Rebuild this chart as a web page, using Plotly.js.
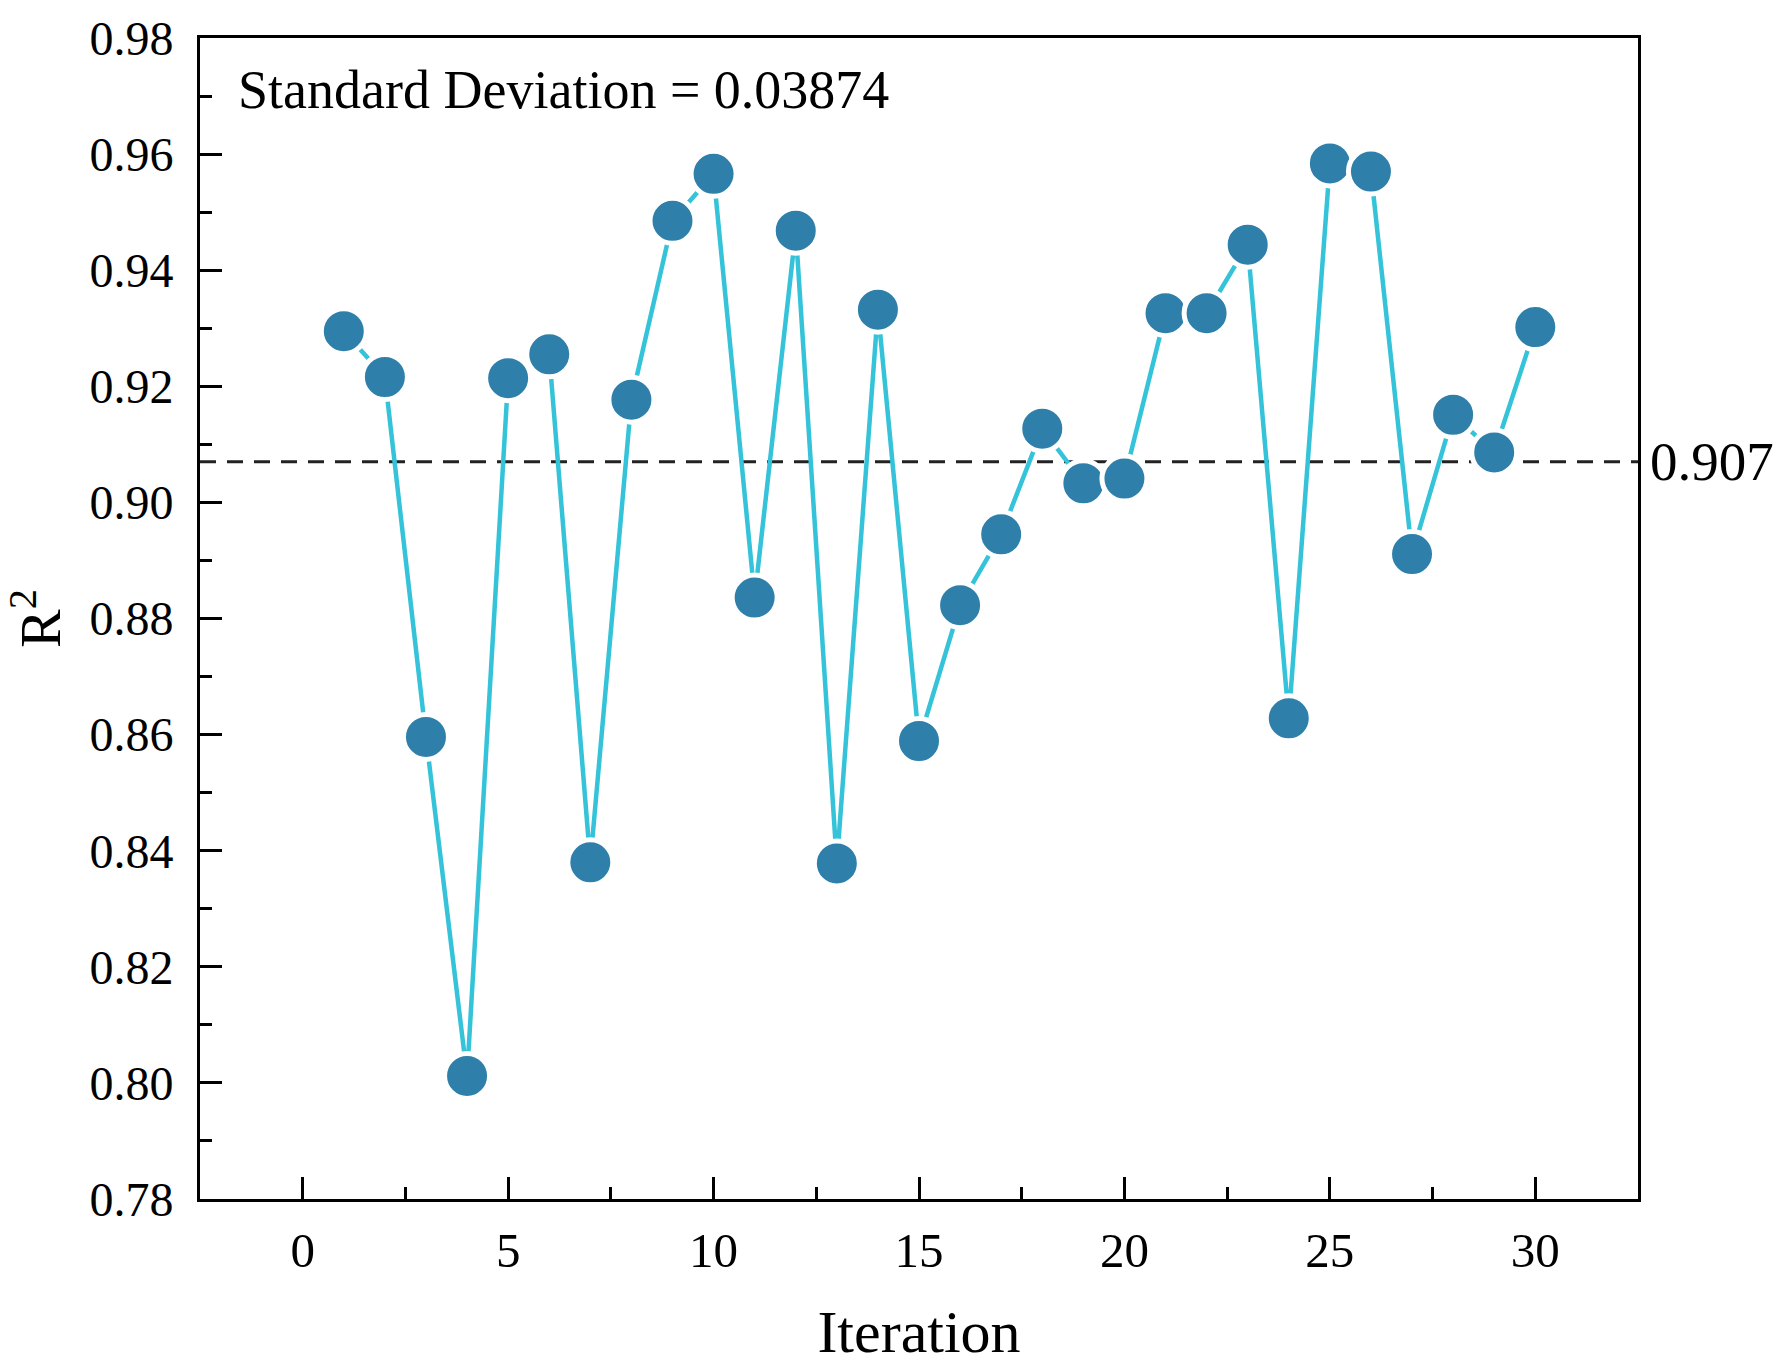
<!DOCTYPE html>
<html>
<head>
<meta charset="utf-8">
<script src="https://cdn.plot.ly/plotly-3.0.1.min.js"></script>
<style>html,body{margin:0;padding:0;background:#fff;}#chart{width:1787px;height:1372px;}</style>
</head>
<body>
<div id="chart"></div>
<script>
const iterations = [1,2,3,4,5,6,7,8,9,10,11,12,13,14,15,16,17,18,19,20,21,22,23,24,25,26,27,28,29,30];
const r2Values = [0.9295,0.9216,0.8596,0.8012,0.9214,0.9255,0.8380,0.9177,0.9485,0.9566,
                  0.8836,0.9468,0.8378,0.9332,0.8589,0.8823,0.8945,0.9127,0.9033,0.9041,
                  0.9326,0.9326,0.9444,0.8628,0.9584,0.9570,0.8911,0.9151,0.9086,0.9302];
const meanValue = 0.907;
const stdText = "Standard Deviation = 0.03874";
const xTickVals = [0,5,10,15,20,25,30];
const yTickVals = [0.78,0.80,0.82,0.84,0.86,0.88,0.90,0.92,0.94,0.96,0.98];

const font = "Liberation Serif, Times New Roman, serif";

const trace = {
  x: iterations, y: r2Values, type: 'scatter', mode: 'lines+markers',
  line: {color: '#34c3d8', width: 4.5},
  marker: {color: '#2e80ab', size: 45, line: {color: '#ffffff', width: 5}},
  hoverinfo: 'skip', showlegend: false, cliponaxis: false
};

const layout = {
  width: 1787, height: 1372,
  margin: {l: 200, r: 149, t: 38, b: 173},
  paper_bgcolor: '#fff', plot_bgcolor: '#fff',
  font: {family: font, color: '#000', size: 48},
  xaxis: {
    range: [-2.5, 32.5], tickvals: xTickVals, ticktext: xTickVals.map(String),
    ticks: 'inside', ticklen: 22, tickwidth: 3, tickcolor: '#000',
    minor: {dtick: 2.5, tick0: 0, ticks: 'inside', ticklen: 12, tickwidth: 3, tickcolor: '#000'},
    showline: true, linecolor: '#000', linewidth: 3, mirror: true,
    showgrid: false, zeroline: false,
    tickfont: {family: font, size: 49, color: '#000'},
    ticklabelstandoff: 6,
    title: {text: 'Iteration', font: {family: font, size: 60, color: '#000'}, standoff: 34}
  },
  yaxis: {
    range: [0.78, 0.98], tickvals: yTickVals, ticktext: yTickVals.map(v => v.toFixed(2)),
    ticks: 'inside', ticklen: 22, tickwidth: 3, tickcolor: '#000',
    minor: {dtick: 0.01, tick0: 0.78, ticks: 'inside', ticklen: 12, tickwidth: 3, tickcolor: '#000'},
    showline: true, linecolor: '#000', linewidth: 3, mirror: true,
    showgrid: false, zeroline: false,
    tickfont: {family: font, size: 48, color: '#000'},
    ticklabelstandoff: 14,
    title: {text: 'R<sup>2</sup>', font: {family: font, size: 58, color: '#000'}, standoff: 16}
  },
  shapes: [{
    type: 'line', xref: 'paper', yref: 'y', x0: 0, x1: 1, y0: meanValue, y1: meanValue,
    line: {color: '#222', width: 2.8, dash: '16px,11px'}, layer: 'below'
  }],
  annotations: [
    {xref: 'paper', yref: 'paper', x: 0.025, y: 0.955, xanchor: 'left', yanchor: 'middle',
     text: stdText, showarrow: false, font: {family: font, size: 54, color: '#000'}},
    {xref: 'paper', yref: 'y', x: 1, y: meanValue, xanchor: 'left', yanchor: 'middle', xshift: 10,
     text: String(meanValue), showarrow: false, font: {family: font, size: 55, color: '#000'}}
  ]
};

Plotly.newPlot('chart', [trace], layout, {staticPlot: true, displayModeBar: false});
</script>
</body>
</html>
